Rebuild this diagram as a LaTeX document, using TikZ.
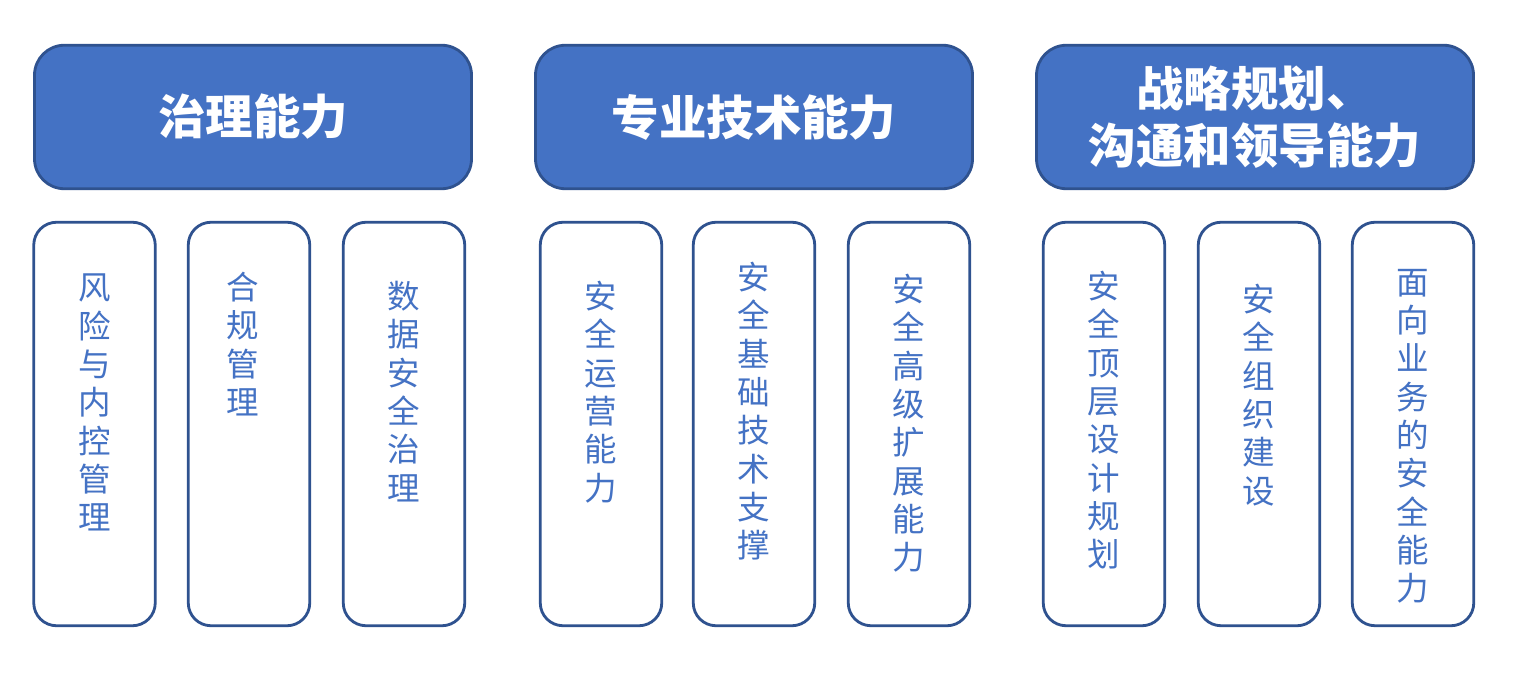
\documentclass[tikz,border=0pt]{standalone}
\usepackage{fontspec}
\usepackage{tikz}
\usetikzlibrary{positioning}
\newfontfamily\cjk{Noto Sans CJK SC}
\definecolor{capblue}{HTML}{4472C4}
\definecolor{capedge}{HTML}{2F528F}

\begin{document}
\begin{tikzpicture}[
  head/.style={rectangle, draw=capedge, fill=capblue, line width=1.6pt, rounded corners=17pt, minimum width=8.74cm, minimum height=2.87cm, align=center, text=white, font=\cjk\bfseries\fontsize{27}{32.7}\selectfont},
  item/.style={rectangle, draw=capedge, fill=white, line width=1.6pt, rounded corners=13pt, minimum width=2.43cm, minimum height=8.07cm},
  itemtext/.style={align=center, inner sep=0pt, text=capblue, font=\cjk\fontsize{18.5}{21.8}\selectfont}
]
  \useasboundingbox (0, 0) rectangle (30.32, 13.6);

  % Headers
  \node[head] (gov) at (5.06, 11.26) {治理能力};
  \node[head] (tech) at (15.08, 11.26) {专业技术能力};
  \node[head] (lead) at (25.10, 11.26) {战略规划、\\沟通和领导能力};

  % Governance
  \node[item] (risk) at (1.89, 5.12) {};
  \node[item] (comply) at (4.98, 5.12) {};
  \node[item] (data) at (8.08, 5.12) {};
  \node[itemtext, below=1.06cm of risk.north] (risk-t) {风\\险\\与\\内\\控\\管\\理};
  \node[itemtext, below=1.02cm of comply.north, xshift=-0.12cm] (comply-t) {合\\规\\管\\理};
  \node[itemtext, below=1.20cm of data.north] (data-t) {数\\据\\安\\全\\治\\理};

  % Technical
  \node[item] (ops) at (12.02, 5.12) {};
  \node[item] (base) at (15.08, 5.12) {};
  \node[item] (adv) at (18.18, 5.12) {};
  \node[itemtext, below=1.20cm of ops.north] (ops-t) {安\\全\\运\\营\\能\\力};
  \node[itemtext, below=0.82cm of base.north] (base-t) {安\\全\\基\\础\\技\\术\\支\\撑};
  \node[itemtext, below=1.06cm of adv.north] (adv-t) {安\\全\\高\\级\\扩\\展\\能\\力};

  % Strategy and leadership
  \node[item] (plan) at (22.08, 5.12) {};
  \node[item] (org) at (25.18, 5.12) {};
  \node[item] (biz) at (28.26, 5.12) {};
  \node[itemtext, below=1.00cm of plan.north] (plan-t) {安\\全\\顶\\层\\设\\计\\规\\划};
  \node[itemtext, below=1.26cm of org.north] (org-t) {安\\全\\组\\织\\建\\设};
  \node[itemtext, below=0.96cm of biz.north] (biz-t) {面\\向\\业\\务\\的\\安\\全\\能\\力};
\end{tikzpicture}
\end{document}
